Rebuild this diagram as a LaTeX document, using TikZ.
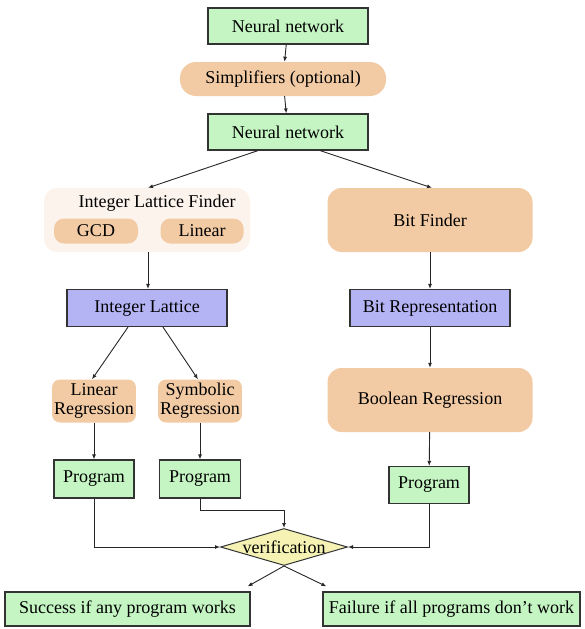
\documentclass[tikz,border=0pt]{standalone}
\usepackage{fontspec}
\setmainfont{Liberation Serif}
\usetikzlibrary{shapes.geometric,arrows.meta}

\definecolor{progGreen}{HTML}{C4F5C3}
\definecolor{stepOrange}{HTML}{F2CBA5}
\definecolor{latBlue}{HTML}{B4B4F5}
\definecolor{verYellow}{HTML}{F5F2B4}
\definecolor{finderBg}{HTML}{FCF4EC}

\tikzset{
  greenbox/.style={draw=black!80, line width=1.2pt, fill=progGreen, inner xsep=3pt},
  bluebox/.style={draw=black!80, line width=1.2pt, fill=latBlue},
  orangebox/.style={fill=stepOrange, align=center},
  finderbox/.style={fill=finderBg, rounded corners=13pt},
  verif/.style={diamond, draw=black!80, line width=1pt, fill=verYellow, inner sep=0pt,
    minimum width=127pt, minimum height=37pt},
  arr/.style={draw=black!85, line width=0.9pt, -{Latex[length=5pt,width=4pt]}}
}

\begin{document}
\begin{tikzpicture}[x=1pt,y=-1pt,font=\fontsize{18}{19}\selectfont]
\useasboundingbox (0,0) rectangle (585,629);

% top chain
\node[greenbox, minimum width=160pt, minimum height=36pt] (nn1) at (288,26) {Neural network};
\node[orangebox, minimum width=206pt, minimum height=34pt, rounded corners=16pt] (simp) at (283,79) {Simplifiers (optional)};
\node[greenbox, minimum width=160pt, minimum height=36pt] (nn2) at (288,132) {Neural network};

% integer lattice branch
\node[finderbox, minimum width=206pt, minimum height=64pt] (ilf) at (147,220) {};
\node (ilftitle) at (157,203) {Integer Lattice Finder};
\node[orangebox, minimum width=84pt, minimum height=25pt, rounded corners=10pt] (gcd) at (96,231) {GCD};
\node[orangebox, minimum width=83pt, minimum height=25pt, rounded corners=10pt] (lin) at (202,231) {Linear};
\node[bluebox, minimum width=160pt, minimum height=37pt] (il) at (147,308) {Integer Lattice};
\node[orangebox, minimum width=80pt, minimum height=43pt, rounded corners=8pt, inner xsep=2pt] (linreg) at (94,401) {Linear\\Regression};
\node[orangebox, minimum width=81pt, minimum height=43pt, rounded corners=8pt, inner xsep=2pt] (symreg) at (200,401) {Symbolic\\Regression};
\node[greenbox, minimum width=80pt, minimum height=38pt] (prog1) at (94,479) {Program};
\node[greenbox, minimum width=81pt, minimum height=38pt] (prog2) at (200,479) {Program};

% bit branch
\node[orangebox, minimum width=205pt, minimum height=64pt, rounded corners=14pt] (bitf) at (430,220) {Bit Finder};
\node[bluebox, minimum width=160pt, minimum height=37pt] (bitrep) at (430,308) {Bit Representation};
\node[orangebox, minimum width=205pt, minimum height=64pt, rounded corners=14pt] (boolreg) at (430,400) {Boolean Regression};
\node[greenbox, minimum width=80pt, minimum height=37pt] (prog3) at (429,485) {Program};

% verification and outcome
\node[verif, label=center:verification] (ver) at (284,547) {};
\node[greenbox, minimum width=245pt, minimum height=34pt] (succ) at (127.5,609) {Success if any program works};
\node[greenbox, minimum width=257pt, minimum height=34pt] (fail) at (451.5,609) {Failure if all programs don’t work};

% connectors
\draw[arr] (nn1) -- (simp);
\draw[arr] (simp) -- (nn2);
\draw[arr] ([xshift=-30pt]nn2.south) -- ([xshift=1pt]ilf.north);
\draw[arr] ([xshift=32pt]nn2.south) -- ([xshift=2pt]bitf.north);
\draw[arr] ([xshift=1pt]ilf.south) -- ([xshift=1pt]il.north);
\draw[arr] ([xshift=-19pt]il.south) -- ([xshift=-2pt]linreg.north);
\draw[arr] ([xshift=16pt]il.south) -- ([xshift=-2pt]symreg.north);
\draw[arr] (linreg) -- (prog1);
\draw[arr] (symreg) -- (prog2);
\draw[arr] (bitf) -- (bitrep);
\draw[arr] (bitrep) -- (boolreg);
\draw[arr] (boolreg) -- (prog3);
\draw[arr] (prog1.south) |- (ver.west);
\draw[arr] (prog2.south) -- ++(0,12) -| (ver.north);
\draw[arr] (prog3.south) |- (ver.east);
\draw[arr] (ver.south) -- ([xshift=-3pt,yshift=5pt]succ.north east);
\draw[arr] (ver.south) -- ([xshift=4pt,yshift=5pt]fail.north west);
\end{tikzpicture}
\end{document}
